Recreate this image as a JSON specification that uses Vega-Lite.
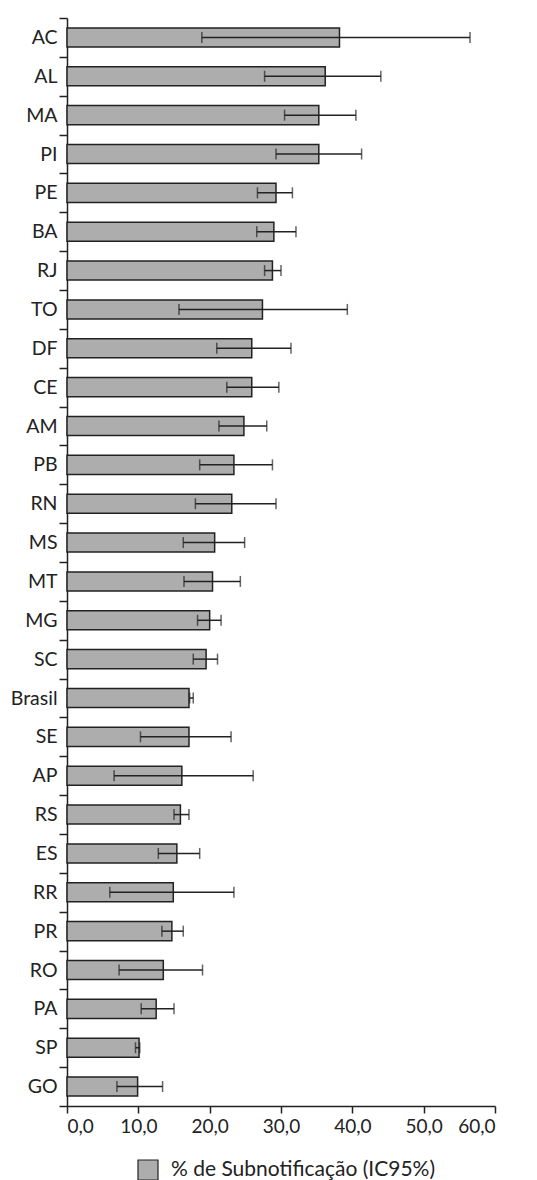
{
  "$schema": "https://vega.github.io/schema/vega-lite/v6.json",
  "autosize": {"type": "none"},
  "padding": {"left": 67, "top": 18, "right": 42, "bottom": 74},
  "width": 428,
  "height": 1088,
  "background": "white",
  "config": {
    "font": "Lato",
    "view": {"stroke": null}
  },
  "data": {
    "values": [
      {"uf": "AC", "valor": 38.2, "lo": 18.9, "hi": 56.5, "serie": "% de Subnotificação (IC95%)"},
      {"uf": "AL", "valor": 36.2, "lo": 27.7, "hi": 44.0, "serie": "% de Subnotificação (IC95%)"},
      {"uf": "MA", "valor": 35.3, "lo": 30.5, "hi": 40.5, "serie": "% de Subnotificação (IC95%)"},
      {"uf": "PI", "valor": 35.3, "lo": 29.3, "hi": 41.3, "serie": "% de Subnotificação (IC95%)"},
      {"uf": "PE", "valor": 29.3, "lo": 26.7, "hi": 31.6, "serie": "% de Subnotificação (IC95%)"},
      {"uf": "BA", "valor": 29.0, "lo": 26.6, "hi": 32.1, "serie": "% de Subnotificação (IC95%)"},
      {"uf": "RJ", "valor": 28.8, "lo": 27.7, "hi": 30.0, "serie": "% de Subnotificação (IC95%)"},
      {"uf": "TO", "valor": 27.4, "lo": 15.7, "hi": 39.3, "serie": "% de Subnotificação (IC95%)"},
      {"uf": "DF", "valor": 25.9, "lo": 21.0, "hi": 31.4, "serie": "% de Subnotificação (IC95%)"},
      {"uf": "CE", "valor": 25.9, "lo": 22.4, "hi": 29.7, "serie": "% de Subnotificação (IC95%)"},
      {"uf": "AM", "valor": 24.8, "lo": 21.3, "hi": 28.0, "serie": "% de Subnotificação (IC95%)"},
      {"uf": "PB", "valor": 23.4, "lo": 18.6, "hi": 28.8, "serie": "% de Subnotificação (IC95%)"},
      {"uf": "RN", "valor": 23.1, "lo": 18.0, "hi": 29.3, "serie": "% de Subnotificação (IC95%)"},
      {"uf": "MS", "valor": 20.7, "lo": 16.3, "hi": 24.9, "serie": "% de Subnotificação (IC95%)"},
      {"uf": "MT", "valor": 20.4, "lo": 16.4, "hi": 24.3, "serie": "% de Subnotificação (IC95%)"},
      {"uf": "MG", "valor": 20.0, "lo": 18.3, "hi": 21.6, "serie": "% de Subnotificação (IC95%)"},
      {"uf": "SC", "valor": 19.5, "lo": 17.7, "hi": 21.1, "serie": "% de Subnotificação (IC95%)"},
      {"uf": "Brasil", "valor": 17.1, "lo": 17.2, "hi": 17.7, "serie": "% de Subnotificação (IC95%)"},
      {"uf": "SE", "valor": 17.1, "lo": 10.3, "hi": 23.0, "serie": "% de Subnotificação (IC95%)"},
      {"uf": "AP", "valor": 16.1, "lo": 6.6, "hi": 26.1, "serie": "% de Subnotificação (IC95%)"},
      {"uf": "RS", "valor": 15.9, "lo": 15.0, "hi": 17.1, "serie": "% de Subnotificação (IC95%)"},
      {"uf": "ES", "valor": 15.4, "lo": 12.8, "hi": 18.6, "serie": "% de Subnotificação (IC95%)"},
      {"uf": "RR", "valor": 14.9, "lo": 6.0, "hi": 23.4, "serie": "% de Subnotificação (IC95%)"},
      {"uf": "PR", "valor": 14.7, "lo": 13.3, "hi": 16.3, "serie": "% de Subnotificação (IC95%)"},
      {"uf": "RO", "valor": 13.5, "lo": 7.3, "hi": 19.0, "serie": "% de Subnotificação (IC95%)"},
      {"uf": "PA", "valor": 12.5, "lo": 10.4, "hi": 15.0, "serie": "% de Subnotificação (IC95%)"},
      {"uf": "SP", "valor": 10.1, "lo": 9.6, "hi": 10.2, "serie": "% de Subnotificação (IC95%)"},
      {"uf": "GO", "valor": 9.9, "lo": 7.0, "hi": 13.4, "serie": "% de Subnotificação (IC95%)"}
    ]
  },
  "encoding": {
    "y": {
      "field": "uf",
      "type": "nominal",
      "sort": null,
      "scale": {"padding": 0},
      "axis": {
        "title": null,
        "tickBand": "extent",
        "tickSize": 8,
        "tickWidth": 1.5,
        "tickColor": "#222",
        "domainColor": "#222",
        "domainWidth": 1.5,
        "labelFontSize": 19.5,
        "labelColor": "#222",
        "labelPadding": 2
      }
    }
  },
  "layer": [
    {
      "mark": {"type": "bar", "height": {"band": 0.49}, "stroke": "#222", "strokeWidth": 1.5},
      "encoding": {
        "x": {
          "field": "valor",
          "type": "quantitative",
          "scale": {"domain": [0, 60], "nice": false},
          "axis": {
            "title": null,
            "values": [0, 10, 20, 30, 40, 50, 60],
            "grid": false,
            "labelExpr": "replace(format(datum.value, '.1f'), '.', ',')",
            "tickSize": 7,
            "tickWidth": 1.5,
            "tickColor": "#222",
            "domainColor": "#222",
            "domainWidth": 1.5,
            "labelFontSize": 19,
            "labelColor": "#222",
            "labelPadding": 4
          }
        },
        "fill": {
          "field": "serie",
          "type": "nominal",
          "scale": {"range": ["#adadad"]},
          "legend": {
            "title": null,
            "orient": "none",
            "legendX": 70,
            "legendY": 1141,
            "symbolType": "square",
            "symbolSize": 400,
            "symbolStrokeColor": "#222",
            "symbolStrokeWidth": 1.2,
            "symbolFillColor": "#adadad",
            "labelFontSize": 21,
            "labelColor": "#222",
            "labelOffset": 12,
            "labelLimit": 500
          }
        }
      }
    },
    {
      "mark": {"type": "rule", "color": "#222", "strokeWidth": 1.5},
      "encoding": {
        "x": {"field": "lo", "type": "quantitative"},
        "x2": {"field": "hi"}
      }
    },
    {
      "mark": {"type": "tick", "color": "#222", "thickness": 1.5, "size": 11, "orient": "vertical"},
      "encoding": {
        "x": {"field": "lo", "type": "quantitative"}
      }
    },
    {
      "mark": {"type": "tick", "color": "#222", "thickness": 1.5, "size": 11, "orient": "vertical"},
      "encoding": {
        "x": {"field": "hi", "type": "quantitative"}
      }
    }
  ]
}
